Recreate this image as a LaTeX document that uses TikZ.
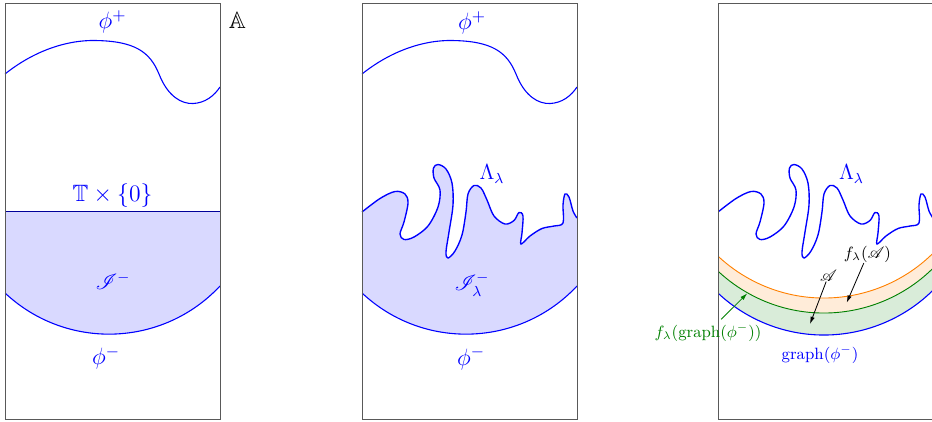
\IfFileExists{fix-cm.sty}{\RequirePackage{fix-cm}}{}
\documentclass[tikz,border=0pt]{standalone}
\usepackage{amssymb}
\IfFileExists{mathrsfs.sty}{\usepackage{mathrsfs}}{\newcommand{\mathscr}{\mathcal}}
\usetikzlibrary{arrows.meta}
\newcommand{\wigglepath}{plot[smooth,tension=0.55] coordinates {(362,212) (380,198.5) (395,191.5) (405,194) (408,203) (404,222) (400,234) (404,239.5) (414,237) (428,226) (438,207) (440,190) (434,178) (433.5,168) (438,164.5) (446,169) (452,183) (453,205) (449,232) (446,252) (448,258) (455,251) (462,235) (466,212) (468,194) (474,185.5) (481,188) (487,200) (494,216) (505,224) (514,220.5) (519,212.5) (523,216) (522,233) (521,244) (530,236) (542,228.5) (554,226) (563,223) (563,205) (565,194) (569,197) (573,211) (577,218)}}
\newcommand{\phipluspath}{(5,74) .. controls (35,50) and (68,40) .. (95,40.5) .. controls (135,41) and (150,52) .. (159,74) .. controls (168,97) and (182,104) .. (193,103.5) .. controls (205,103) and (214,96) .. (220,87)}
\begin{document}
\begin{tikzpicture}[x=0.55pt,y=-0.55pt,
  frame/.style={draw=black!65, line width=0.5pt},
  curve/.style={draw=blue, line width=0.6pt},
  wig/.style={draw=blue, line width=0.75pt},
  biglab/.style={text=blue, font=\fontsize{13}{15}\selectfont, inner sep=0pt},
  midlab/.style={text=blue, font=\fontsize{12}{14}\selectfont, inner sep=0pt},
  smalllab/.style={font=\fontsize{9}{11}\selectfont, inner sep=0pt},
  arr/.style={-{Latex[length=4pt,width=2.4pt]}, line width=0.45pt},
]
\useasboundingbox (0,0) rectangle (932,421);
\clip (0,0) rectangle (932,421);

% ---------- panel 1 ----------
\fill[blue!15] (5,211) -- (220,211) -- (220,286) arc[start angle=43.1, end angle=133.1, radius=152] -- cycle;
\draw[curve] (220,286) arc[start angle=43.1, end angle=133.1, radius=152];
\draw[draw=blue!60!black, line width=0.5pt] (5,211) -- (220,211);
\draw[curve] \phipluspath;
\draw[frame] (5,3) rectangle (220,419.5);
\node[biglab] (pp1) at (112.5,22) {$\phi^+$};
\node[font=\fontsize{13}{15}\selectfont, inner sep=0pt] (AA) at (237.5,20) {$\mathbb{A}$};
\node[biglab] (T0) at (112.5,196) {$\mathbb{T}\times\{0\}$};
\node[midlab] (I1) at (113,281) {$\mathscr{I}^-$};
\node[biglab] (pm1) at (106,358) {$\phi^-$};

% ---------- panel 2 ----------
\fill[blue!15] \wigglepath -- (577,286) arc[start angle=43.1, end angle=133.1, radius=152] -- cycle;
\draw[curve] (577,286) arc[start angle=43.1, end angle=133.1, radius=152];
\draw[wig] \wigglepath;
\begin{scope}[shift={(357,0)}]
  \draw[curve] \phipluspath;
\end{scope}
\draw[frame] (362,3) rectangle (577,419.5);
\node[biglab] (pp2) at (472,23) {$\phi^+$};
\node[midlab] (L2) at (492,174) {$\Lambda_\lambda$};
\node[midlab] (I2) at (472,285) {$\mathscr{I}^-_\lambda$};
\node[biglab] (pm2) at (471,358.5) {$\phi^-$};

% ---------- panel 3 ----------
\begin{scope}
  \clip (718,3) rectangle (934,419.5);
  \fill[orange!15] (958.2,220.5) arc[start angle=30, end angle=150, radius=155]
     -- (689.8,235.5) arc[start angle=150, end angle=30, radius=155] -- cycle;
  \fill[green!50!black!15] (958.2,235.5) arc[start angle=30, end angle=150, radius=155]
     -- (689.8,257.5) arc[start angle=150, end angle=30, radius=155] -- cycle;
  \draw[orange, line width=0.5pt] (958.2,220.5) arc[start angle=30, end angle=150, radius=155];
  \draw[green!50!black, line width=0.5pt] (958.2,235.5) arc[start angle=30, end angle=150, radius=155];
  \draw[blue, line width=0.6pt] (958.2,257.5) arc[start angle=30, end angle=150, radius=155];
  \begin{scope}[shift={(356,0)}]
    \draw[wig] \wigglepath;
  \end{scope}
\end{scope}
\draw[frame] (718,3) rectangle (934,419.5);
\node[midlab] (L3) at (851.5,174) {$\Lambda_\lambda$};
\node[smalllab, text=blue] (gr) at (820,354.5) {graph$(\phi^-)$};
\node[smalllab, text=green!50!black] (fg) at (708,332.5) {$f_\lambda(\mathrm{graph}(\phi^-))$};
\node[smalllab] (A) at (828.5,275.5) {$\mathscr{A}$};
\node[smalllab] (fA) at (867.5,254.5) {$f_\lambda(\mathscr{A})$};
\coordinate (Aend) at (810,324);
\coordinate (fAend) at (846.7,302.7);
\coordinate (fgend) at (747.3,293.3);
\draw[arr] (A) -- (Aend);
\draw[arr] (fA) -- (fAend);
\draw[arr, green!50!black, shorten <=3pt] (fg) -- (fgend);
\end{tikzpicture}
\end{document}
